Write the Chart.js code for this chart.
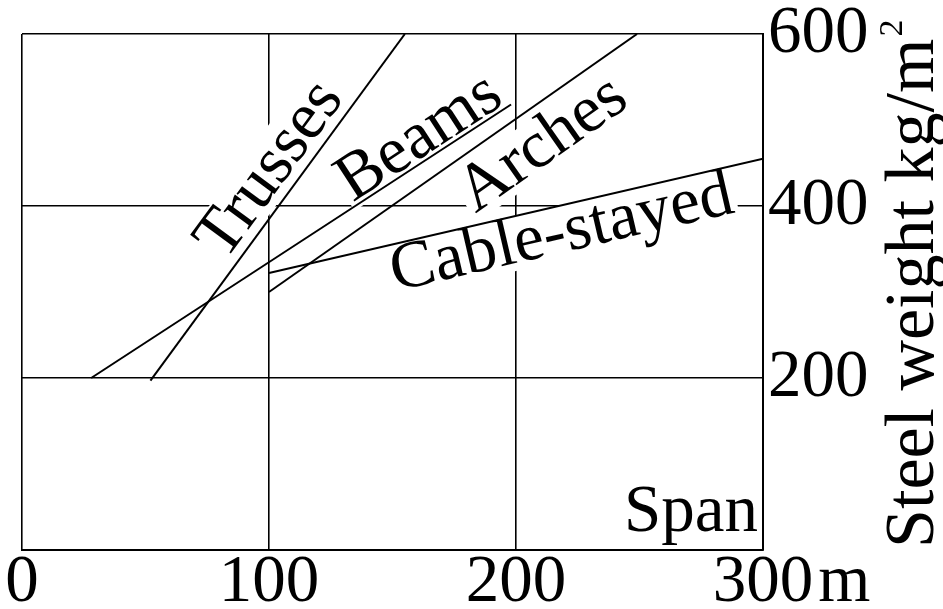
<!DOCTYPE html>
<html><head><meta charset="utf-8">
<script src="https://cdn.jsdelivr.net/npm/chart.js@4/dist/chart.umd.min.js"></script>
<style>html,body{margin:0;padding:0;background:#fff;}#wrap{width:943px;height:609px;}</style>
</head><body><div id="wrap"><canvas id="c" width="943" height="609"></canvas></div>
<script>
// ---- data ----
const xTicks = [0, 100, 200, 300];
const yTicks = [200, 400, 600];
const seriesNames = ['Trusses', 'Beams', 'Arches', 'Cable-stayed'];
const trussesSpan = [52, 155];   const trussesWeight = [197, 600];
const beamsSpan   = [28, 198];   const beamsWeight   = [200, 518];
const archesSpan  = [100, 249];  const archesWeight  = [300, 600];
const cableSpan   = [100, 300];  const cableWeight   = [322, 455];
const xAxisName = 'Span';
const xUnit = 'm';
const yAxisTitle = 'Steel weight kg/m';
const yTitleSup = '2';

// ---- layout (label anchors in data units, text centre) ----
const labelAnchors = [{x: 100.6, y: 442}, {x: 161, y: 479}, {x: 211, y: 471}, {x: 218.5, y: 367}];

const FONT = '"Liberation Serif", "Times New Roman", serif';
const FS = 67;
function pts(xs, ys) { return xs.map((x, i) => ({x: x, y: ys[i]})); }
const seriesData = [pts(trussesSpan, trussesWeight), pts(beamsSpan, beamsWeight), pts(archesSpan, archesWeight), pts(cableSpan, cableWeight)];

const annot = {
  id: 'annot',
  beforeDatasetsDraw(chart) {
    const {ctx, scales: {x, y}} = chart;
    ctx.save();
    ctx.font = FS + 'px ' + FONT;
    const items = seriesNames.map((name, i) => {
      const d = chart.data.datasets[i].data;
      const a = Math.atan2(y.getPixelForValue(d[1].y) - y.getPixelForValue(d[0].y),
                           x.getPixelForValue(d[1].x) - x.getPixelForValue(d[0].x));
      return {name, a, px: x.getPixelForValue(labelAnchors[i].x), py: y.getPixelForValue(labelAnchors[i].y), w: ctx.measureText(name).width};
    });
    items.forEach(it => {
      ctx.save(); ctx.translate(it.px, it.py); ctx.rotate(it.a);
      ctx.fillStyle = '#fff';
      ctx.fillRect(-it.w / 2 - 3, -FS * 0.42, it.w + 6, FS * 0.8);
      ctx.restore();
    });
    items.forEach(it => {
      ctx.save(); ctx.translate(it.px, it.py); ctx.rotate(it.a);
      ctx.fillStyle = '#000'; ctx.textAlign = 'center'; ctx.textBaseline = 'middle';
      ctx.fillText(it.name, 0, 0);
      ctx.restore();
    });
    ctx.restore();
  },
  afterDraw(chart) {
    const {ctx, scales: {x, y}, chartArea} = chart;
    ctx.save();
    ctx.fillStyle = '#000';
    ctx.font = FS + 'px ' + FONT;
    ctx.textAlign = 'right'; ctx.textBaseline = 'alphabetic';
    ctx.fillText(xAxisName, chartArea.right - 5, chartArea.bottom - 19);
    const lastPx = x.getPixelForValue(xTicks[xTicks.length - 1]);
    const w300 = ctx.measureText(String(xTicks[xTicks.length - 1])).width;
    ctx.textAlign = 'left'; ctx.textBaseline = 'middle';
    ctx.fillText(xUnit, lastPx + w300 / 2 + 5, x.top + FS / 2);
    ctx.save();
    ctx.translate(933, 548);
    ctx.rotate(-Math.PI / 2);
    ctx.font = '70px ' + FONT;
    ctx.textAlign = 'left'; ctx.textBaseline = 'alphabetic';
    ctx.fillText(yAxisTitle, 0, 0);
    const tw = ctx.measureText(yAxisTitle).width;
    ctx.font = '34px ' + FONT;
    ctx.fillText(yTitleSup, tw + 2, -31);
    ctx.restore();
    ctx.restore();
  }
};

new Chart(document.getElementById('c'), {
  type: 'line',
  data: {
    datasets: seriesData.map((d, i) => ({
      label: seriesNames[i], data: d, borderColor: '#000', borderWidth: 2,
      pointRadius: 0, fill: false, tension: 0
    }))
  },
  options: {
    responsive: false, animation: false,
    layout: {padding: {left: 22, top: 34, right: 0, bottom: 0}},
    plugins: {legend: {display: false}, tooltip: {enabled: false}},
    scales: {
      x: {
        type: 'linear', min: 0, max: 300, position: 'bottom',
        afterBuildTicks: s => { s.ticks = xTicks.map(v => ({value: v})); },
        afterFit: s => { s.height = 59; s.paddingLeft = 0; s.paddingRight = 0; },
        grid: {color: '#000', lineWidth: 1.6, drawTicks: false},
        border: {color: '#000', width: 2},
        ticks: {color: '#000', font: {family: FONT, size: FS, lineHeight: 1}, padding: 0,
                maxRotation: 0, autoSkip: false, callback: v => String(v)}
      },
      y: {
        type: 'linear', min: 0, max: 600, position: 'right',
        afterBuildTicks: s => { s.ticks = [0].concat(yTicks).map(v => ({value: v})); },
        afterFit: s => { s.width = 180; s.paddingTop = 0; s.paddingBottom = 0; },
        grid: {color: '#000', lineWidth: 1.6, drawTicks: false},
        border: {color: '#000', width: 2},
        ticks: {color: '#000', font: {family: FONT, size: FS, lineHeight: 1}, padding: 5,
                autoSkip: false, callback: v => yTicks.includes(v) ? String(v) : ''}
      }
    }
  },
  plugins: [annot]
});
</script></body></html>
